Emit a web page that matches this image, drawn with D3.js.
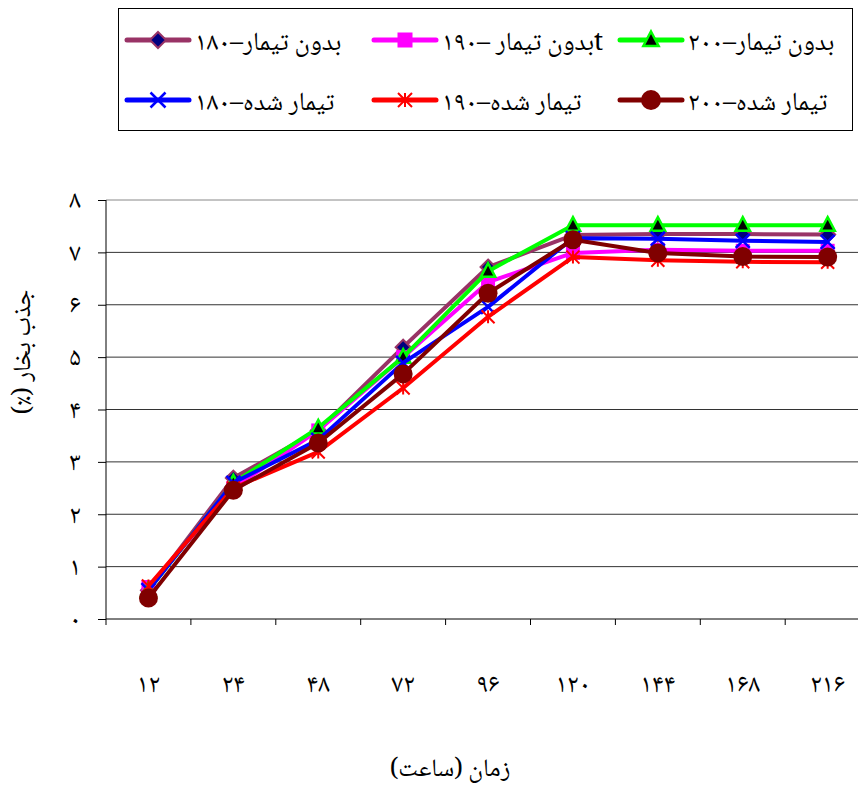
<!DOCTYPE html>
<html><head><meta charset="utf-8">
<script src="https://cdn.jsdelivr.net/npm/d3@7/dist/d3.min.js"></script>
<style>
html,body{margin:0;padding:0;background:#fff;}
svg{display:block;}
text{font-family:"Noto Naskh Arabic","Noto Sans Arabic","Liberation Serif","DejaVu Serif","Times New Roman",serif;}
</style></head>
<body>
<svg id="c" width="858" height="791"></svg>
<script>
const categories = ["۱۲","۲۴","۴۸","۷۲","۹۶","۱۲۰","۱۴۴","۱۶۸","۲۱۶"];
const yTicks = [0,1,2,3,4,5,6,7,8];
const yTickLabels = ["۰","۱","۲","۳","۴","۵","۶","۷","۸"];
const seriesNames = ["بدون تیمار–۱۸۰","tبدون تیمار –۱۹۰","بدون تیمار–۲۰۰","تیمار شده–۱۸۰","تیمار شده–۱۹۰","تیمار شده–۲۰۰"];
const untreated180 = [0.55,2.69,3.6,5.19,6.72,7.33,7.35,7.35,7.34];
const untreated190 = [0.61,2.5,3.6,5.0,6.43,6.99,7.05,7.03,7.03];
const untreated200 = [0.55,2.6,3.65,5.0,6.64,7.52,7.52,7.52,7.52];
const treated180 = [0.55,2.6,3.42,4.89,5.96,7.27,7.26,7.22,7.2];
const treated190 = [0.63,2.5,3.19,4.41,5.77,6.91,6.85,6.82,6.81];
const treated200 = [0.4,2.46,3.36,4.68,6.22,7.24,6.99,6.92,6.91];
const xTitle = "زمان (ساعت)";
const yTitle = "جذب بخار (٪)";

const seriesData = [untreated180,untreated190,untreated200,treated180,treated190,treated200];
const styles = [
  {line:"#993366", marker:"diamond", fill:"#000080", stroke:"#993366"},
  {line:"#FF00FF", marker:"square", fill:"#FF00FF", stroke:"#FF00FF"},
  {line:"#00FF00", marker:"triangle", fill:"#000000", stroke:"#00FF00"},
  {line:"#0000FF", marker:"x", fill:"none", stroke:"#0000FF"},
  {line:"#FF0000", marker:"star", fill:"none", stroke:"#FF0000"},
  {line:"#800000", marker:"circle", fill:"#800000", stroke:"#800000"}
];

const svg = d3.select("#c");
const L = 106, T = 200, B = 619, band = 84.9;
const x = d3.scaleBand().domain(categories).range([L, L + band*categories.length]).padding(0);
const y = d3.scaleLinear().domain([0,8]).range([B, T]);
const cx = c => x(c) + x.bandwidth()/2;

// grid
svg.append("g").selectAll("line").data(yTicks.slice(1)).join("line")
  .attr("x1", L).attr("x2", 870).attr("y1", d=>y(d)).attr("y2", d=>y(d))
  .attr("stroke", d=> d===8 ? "#888" : "#333").attr("stroke-width", 1);

// y axis
const yAxis = d3.axisLeft(y).tickValues(yTicks).tickSize(8).tickFormat((d,i)=>yTickLabels[i]);
const gy = svg.append("g").attr("transform",`translate(${L},0)`).call(yAxis);
gy.select(".domain").attr("stroke","#000").attr("d",`M0,${T}V${B+6}`);
gy.selectAll(".tick line").attr("stroke","#000");
gy.selectAll(".tick text").attr("font-size",26).attr("x",-31).attr("text-anchor","middle").attr("dy","0.3em").attr("fill","#000");

// x axis
const xAxis = d3.axisBottom(x).tickSize(0).tickFormat(d=>d);
const gx = svg.append("g").attr("transform",`translate(0,${B})`).call(xAxis);
gx.select(".domain").attr("stroke","#000").attr("d",`M${L},0H870`);
gx.selectAll(".tick text").attr("font-size",26).attr("y",65).attr("dy","0.3em").attr("fill","#000");
svg.append("g").selectAll("line").data(categories.slice(1)).join("line")
  .attr("x1", d=>x(d)).attr("x2", d=>x(d)).attr("y1", B).attr("y2", B+6).attr("stroke","#000");

function marker(g, type, st, size) {
  const s = size;
  if (type==="diamond") {
    g.append("path").attr("d",`M0,${-s}L${s},0L0,${s}L${-s},0Z`).attr("fill",st.fill).attr("stroke",st.stroke).attr("stroke-width",2);
  } else if (type==="square") {
    g.append("rect").attr("x",-s).attr("y",-s).attr("width",2*s).attr("height",2*s).attr("fill",st.fill);
  } else if (type==="triangle") {
    g.append("path").attr("d",`M0,${-s}L${s*0.9},${s*0.7}L${-s*0.9},${s*0.7}Z`).attr("fill",st.fill).attr("stroke",st.stroke).attr("stroke-width",2.5);
  } else if (type==="x") {
    g.append("path").attr("d",`M${-s},${-s}L${s},${s}M${s},${-s}L${-s},${s}`).attr("stroke",st.stroke).attr("stroke-width",2.5);
  } else if (type==="star") {
    g.append("path").attr("d",`M${-s},${-s}L${s},${s}M${s},${-s}L${-s},${s}M0,${-s}V${s}`).attr("stroke",st.stroke).attr("stroke-width",2);
  } else if (type==="circle") {
    g.append("circle").attr("r",s).attr("fill",st.fill);
  }
}
const msize = {diamond:7.5, square:7, triangle:8, x:7, star:6.5, circle:9.5};

const line = d3.line().x((d,i)=>cx(categories[i])).y(d=>y(d));
seriesData.forEach((data,k)=>{
  const st = styles[k];
  const g = svg.append("g");
  g.append("path").datum(data).attr("d",line).attr("fill","none").attr("stroke",st.line).attr("stroke-width",4).attr("stroke-linejoin","round");
  data.forEach((v,i)=>{
    const mg = g.append("g").attr("transform",`translate(${cx(categories[i])},${y(v)})`);
    marker(mg, st.marker, st, msize[st.marker]);
  });
});

// y title
svg.append("text").attr("transform","translate(30,352) rotate(-90)").attr("text-anchor","middle")
  .attr("direction","rtl").attr("font-size",25).text(yTitle);
// x title
svg.append("text").attr("x",450).attr("y",776).attr("text-anchor","middle").attr("direction","rtl").attr("font-size",25).text(xTitle);

// legend
svg.append("rect").attr("x",118.5).attr("y",8.5).attr("width",734).attr("height",122).attr("fill","none").attr("stroke","#000");
const legX = [127, 374, 620];
const legY = [40, 100];
seriesNames.forEach((name,k)=>{
  const col = k%3, row = Math.floor(k/3);
  const x0 = legX[col], yy = legY[row];
  const st = styles[k];
  const g = svg.append("g");
  g.append("line").attr("x1",x0).attr("x2",x0+62).attr("y1",yy).attr("y2",yy).attr("stroke",st.line).attr("stroke-width",5).attr("stroke-linecap","round");
  const mg = g.append("g").attr("transform",`translate(${x0+31},${yy})`);
  marker(mg, st.marker, st, msize[st.marker]+0.5);
  g.append("text").attr("x",x0+68).attr("y",yy+2).attr("dy","0.3em").attr("direction","rtl").attr("text-anchor","end").attr("font-size",26).text(name);
});
</script>
</body></html>
